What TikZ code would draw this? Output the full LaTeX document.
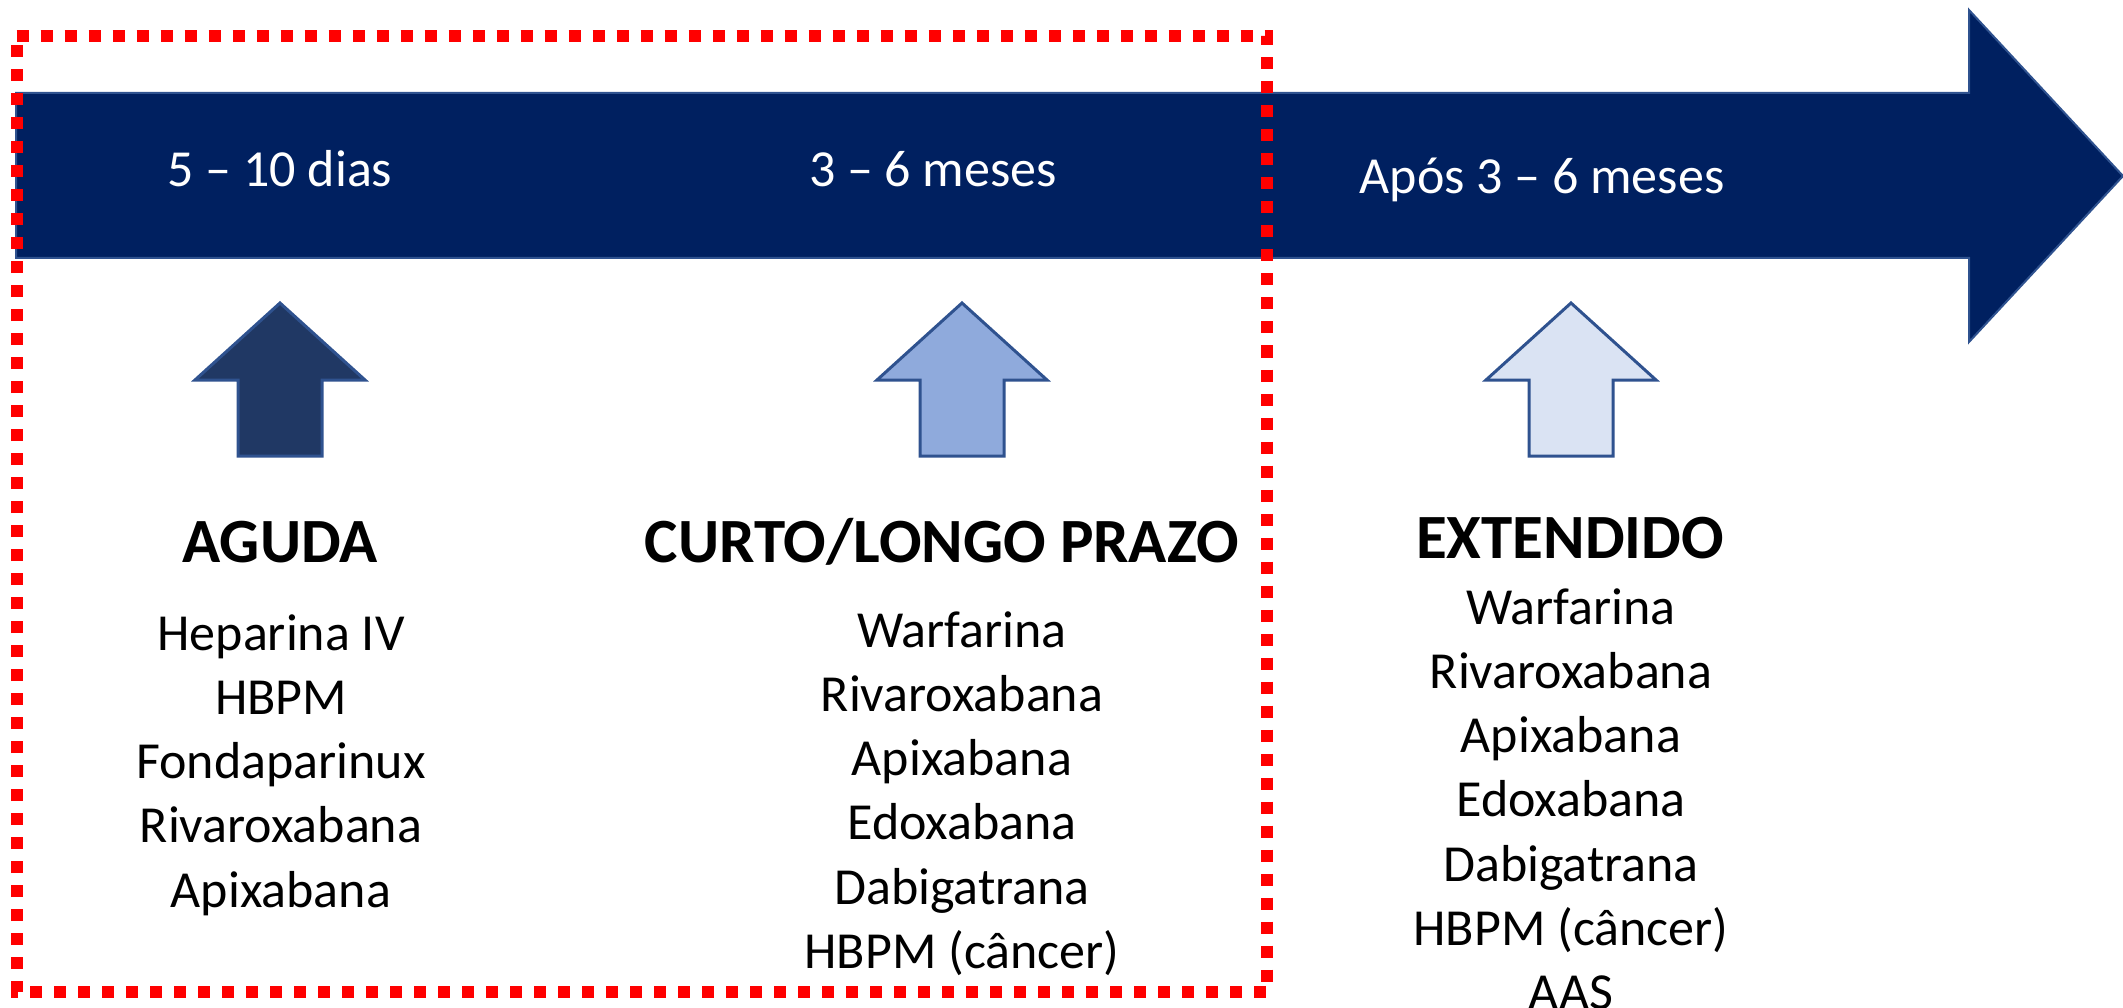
\documentclass[tikz,border=0pt]{standalone}
\usepackage{fontspec}
\setmainfont{Carlito}
\definecolor{navy}{HTML}{002060}
\definecolor{edgeblue}{HTML}{2F528F}
\definecolor{darkfill}{HTML}{203864}
\definecolor{midfill}{HTML}{8FAADC}
\definecolor{lightfill}{HTML}{DAE3F3}
\begin{document}
\begin{tikzpicture}[x=1pt,y=-1pt,
  lbl/.style={anchor=base,inner sep=0pt,font=\fontsize{52}{62}\selectfont},
  toplbl/.style={lbl,text=white},
  headlbl/.style={anchor=base,inner sep=0pt,font=\fontsize{63}{74}\selectfont\bfseries},
  pics/uparrow/.style={code={\draw[edgeblue,line width=3pt,line join=miter,fill=#1] (0,0) -- (85,77) -- (42,77) -- (42,153) -- (-42,153) -- (-42,77) -- (-85,77) -- cycle;}}
]
\useasboundingbox (0,0) rectangle (2123,1008);
% timeline arrow
\draw[edgeblue,line width=2pt,fill=navy] (16,93) -- (1969,93) -- (1969,10) -- (2123,176) -- (1969,342) -- (1969,258) -- (16,258) -- cycle;
% top labels
\node[toplbl] (t1) at (280,187) {5 – 10 dias};
\node[toplbl] (t2) at (933,187) {3 – 6 meses};
\node[toplbl] (t3) at (1542,194) {Após 3 – 6 meses};
% up arrows
\pic at (280,303) {uparrow=darkfill};
\pic at (962,303) {uparrow=midfill};
\pic at (1571,303) {uparrow=lightfill};
% headers
\node[headlbl] (h1) at (280,562) {AGUDA};
\node[headlbl] (h2) at (942,562) {CURTO/LONGO PRAZO};
\node[headlbl] (h3) at (1570,558) {EXTENDIDO};
% lists
\foreach \txt [count=\i from 0] in {Heparina IV,HBPM,Fondaparinux,Rivaroxabana,Apixabana}
  \node[lbl] (a\i) at (281,{650+64.3*\i}) {\txt};
\foreach \txt [count=\i from 0] in {Warfarina,Rivaroxabana,Apixabana,Edoxabana,Dabigatrana,HBPM (câncer)}
  \node[lbl] (b\i) at (962,{647+64.3*\i}) {\txt};
\foreach \txt [count=\i from 0] in {Warfarina,Rivaroxabana,Apixabana,Edoxabana,Dabigatrana,HBPM (câncer),AAS}
  \node[lbl] (c\i) at (1571,{624+64.3*\i}) {\txt};
% red dashed frame
\draw[red,line width=12pt,dash pattern=on 12pt off 12pt] (16.5,36) -- (1267,36) -- (1267,992) -- (16.5,992) -- cycle;
\end{tikzpicture}
\end{document}
